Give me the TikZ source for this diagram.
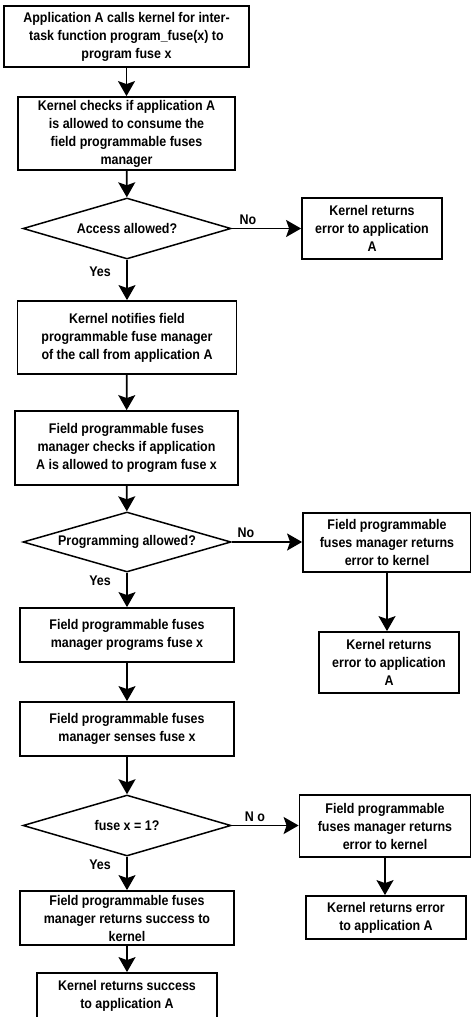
\documentclass[tikz,border=0pt]{standalone}
\usepackage{fontspec}
\setmainfont{Liberation Sans}[FakeStretch=0.89]
\usetikzlibrary{shapes.geometric,arrows.meta}
\newcommand{\dtext}[1]{\makebox[0pt]{#1}}
\begin{document}
\begin{tikzpicture}[x=1pt,y=-1pt,
  every node/.style={font=\fontsize{14}{18}\bfseries\selectfont, align=center, inner sep=0pt},
  procbox/.style={draw, line width=1.8pt, rectangle},
  decision/.style={draw, line width=1.5pt, diamond},
  flow/.style={line width=1.8pt, -{Stealth[length=15pt,width=17pt,inset=3pt]}},
  lbl/.style={font=\fontsize{14}{16}\bfseries\selectfont}]
\useasboundingbox (0,0) rectangle (471,1017);

% main column
\node[procbox, minimum width=245pt, minimum height=61pt] (b1) at (126.5,36.5)
  {Application A calls kernel for inter-\\task function program\_fuse(x) to\\program fuse x};
\node[procbox, minimum width=217pt, minimum height=73pt] (b2) at (126.5,133.5)
  {Kernel checks if application A\\is allowed to consume the\\field programmable fuses\\manager};
\node[decision, minimum width=208pt, minimum height=61pt] (d1) at (127,228.5)
  {\dtext{Access allowed?}};
\node[procbox, minimum width=219pt, minimum height=73pt] (b3) at (127,337.5)
  {Kernel notifies field\\programmable fuse manager\\of the call from application A};
\node[procbox, minimum width=223pt, minimum height=74pt] (b4) at (126.5,448)
  {Field programmable fuses\\manager checks if application\\A is allowed to program fuse x};
\node[decision, minimum width=208pt, minimum height=60pt] (d2) at (127,542)
  {\dtext{Programming allowed?}};
\node[procbox, minimum width=214pt, minimum height=54pt] (b5) at (127,635)
  {Field programmable fuses\\manager programs fuse x};
\node[procbox, minimum width=214pt, minimum height=54pt] (b6) at (127,729)
  {Field programmable fuses\\manager senses fuse x};
\node[decision, minimum width=208pt, minimum height=61pt] (d3) at (127,825.5)
  {\dtext{fuse x = 1?}};
\node[procbox, minimum width=214pt, minimum height=54pt] (b7) at (127,918)
  {Field programmable fuses\\manager returns success to\\kernel};
\node[procbox, minimum width=180pt, minimum height=46pt] (b8) at (127,996)
  {Kernel returns success\\to application A};

% error branches
\node[procbox, minimum width=140pt, minimum height=61pt] (r1) at (372,228.5)
  {Kernel returns\\error to application\\A};
\node[procbox, minimum width=168pt, minimum height=59pt] (r2) at (387,542.5)
  {Field programmable\\fuses manager returns\\error to kernel};
\node[procbox, minimum width=140pt, minimum height=61pt] (r2b) at (389,662.5)
  {Kernel returns\\error to application\\A};
\node[procbox, minimum width=171pt, minimum height=62pt] (r3) at (385,826)
  {Field programmable\\fuses manager returns\\error to kernel};
\node[procbox, minimum width=160pt, minimum height=43pt] (r3b) at (386,917.5)
  {Kernel returns error\\to application A};

% branch labels
\node[lbl] (n1) at (248,220) {No};
\node[lbl] (n2) at (246,533) {No};
\node[lbl] (n3) at (255,817) {N o};
\node[lbl] (y1) at (100,272) {Yes};
\node[lbl] (y2) at (100,581) {Yes};
\node[lbl] (y3) at (100,865) {Yes};

% connectors
\draw[flow] (b1) -- (b2);
\draw[flow] (b2) -- (d1);
\draw[flow] (d1) -- (b3);
\draw[flow] (b3) -- (b4);
\draw[flow] (b4) -- (d2);
\draw[flow] (d2) -- (b5);
\draw[flow] (b5) -- (b6);
\draw[flow] (b6) -- (d3);
\draw[flow] (d3) -- (b7);
\draw[flow] (b7) -- (b8);
\draw[flow] (d1) -- (r1);
\draw[flow] (d2.east) -- (d2.east -| r2.west);
\draw[flow] (r2.south) -- (r2.south |- r2b.north);
\draw[flow] (d3.east) -- (d3.east -| r3.west);
\draw[flow] (r3.south) -- (r3.south |- r3b.north);
\end{tikzpicture}
\end{document}
